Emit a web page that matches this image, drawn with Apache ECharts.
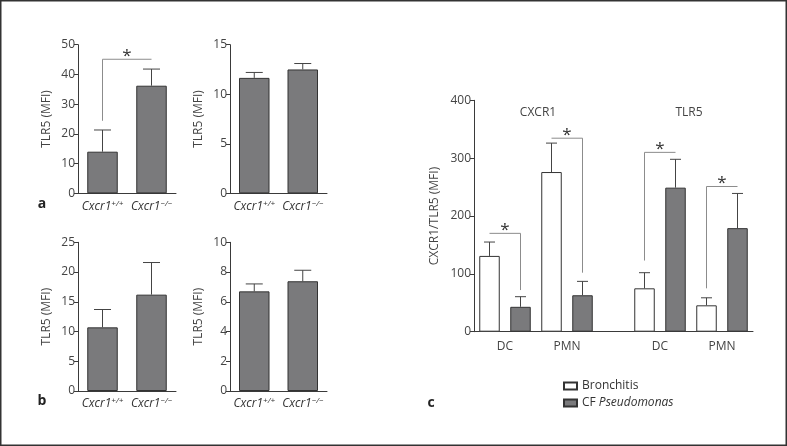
<!DOCTYPE html>
<html><head><meta charset="utf-8">
<script src="https://cdn.jsdelivr.net/npm/echarts@6/dist/echarts.min.js"></script>
<style>html,body{margin:0;padding:0;background:#fff}#c{width:787px;height:446px}</style>
</head><body><div id="c"></div>
<script>
// ---- data ----
const genotypes = ['Cxcr1+/+', 'Cxcr1−/−'];
const aLeftMean = [14.0, 36.2];
const aLeftSem = [7.3, 5.6];
const aRightMean = [11.65, 12.5];
const aRightSem = [0.55, 0.6];
const bLeftMean = [10.7, 16.2];
const bLeftSem = [3.0, 5.4];
const bRightMean = [6.7, 7.38];
const bRightSem = [0.5, 0.74];
const aLeftBracket = [0, 1, 45.1, 24.4, -1]; // from cat, to cat, top, left drop, right drop

const markers = ['CXCR1', 'TLR5'];
const cellTypes = ['DC', 'PMN'];
const bronchitisMean = [131, 276, 75, 45.6];
const bronchitisSem = [24, 50, 27, 13];
const cfMean = [43, 63, 249, 179];
const cfSem = [17.5, 24, 49, 60];
// [marker, cell, top, left drop, right drop]
const cBrackets = [[0, 0, 170, -1, 72], [0, 1, 334.5, -1, 102], [1, 0, 310, 123, -1], [1, 1, 251, 75, -1]];

const yMaxes = [50, 15, 25, 10, 400];
const yIntervals = [10, 5, 5, 2, 100];

// ---- helpers ----
const FONT = '"Open Sans", "Noto Sans", sans-serif';
const GRAY = '#7a7a7c';
const AX = '#3a3a3a';
const TXT = '#444';

function slot(m, c) { return m * 5 + c * 2; }
const nSlots = markers.length * 5 - 1;

function errRender(cap) {
  return function (params, api) {
    const x = api.value(0), m = api.value(1), u = api.value(2);
    const p0 = api.coord([x, m]), p1 = api.coord([x, u]);
    const st = { stroke: '#444', lineWidth: 1 };
    return { type: 'group', children: [
      { type: 'line', shape: { x1: p0[0], y1: p0[1], x2: p1[0], y2: p1[1] }, style: st },
      { type: 'line', shape: { x1: p1[0] - cap, y1: p1[1], x2: p1[0] + cap, y2: p1[1] }, style: st }
    ] };
  };
}
function bracketRender(params, api) {
  const x0 = api.value(0), x1 = api.value(1), top = api.value(2), dl = api.value(3), dr = api.value(4);
  const a = api.coord([x0, top]), b = api.coord([x1, top]);
  const st = { stroke: '#8c8c8c', lineWidth: 1 };
  const ch = [{ type: 'line', shape: { x1: a[0], y1: a[1], x2: b[0], y2: b[1] }, style: st }];
  if (dl >= 0) { const d = api.coord([x0, dl]); ch.push({ type: 'line', shape: { x1: a[0], y1: a[1], x2: d[0], y2: d[1] }, style: st }); }
  if (dr >= 0) { const d = api.coord([x1, dr]); ch.push({ type: 'line', shape: { x1: b[0], y1: b[1], x2: d[0], y2: d[1] }, style: st }); }
  ch.push({ type: 'text', x: (a[0] + b[0]) / 2, y: a[1] - 3, style: { text: '*', fontSize: 17, fontFamily: FONT, fill: '#333', align: 'center', verticalAlign: 'middle' } });
  return { type: 'group', children: ch };
}

const grids = [
  { left: 78, top: 44.7, width: 98, height: 148.6 },
  { left: 230, top: 44.7, width: 97, height: 148.6 },
  { left: 78, top: 242.3, width: 98, height: 148.7 },
  { left: 230, top: 242.3, width: 97, height: 148.7 },
  { left: 474, top: 100.3, width: 279, height: 231.4 }
];

const genoRich = {
  it: { fontStyle: 'italic', fontSize: 12, fontFamily: FONT, color: '#333', lineHeight: 14 },
  sup: { fontStyle: 'italic', fontSize: 8, fontFamily: FONT, color: '#333', lineHeight: 14, verticalAlign: 'top', padding: [0, 0, 6, 0] }
};
function genoLabel(v) {
  const i = v.indexOf('1');
  return '{it|' + v.slice(0, i + 1) + '}{sup|' + v.slice(i + 1) + '}';
}

const xAxes = [], yAxes = [], series = [];
const abMeans = [aLeftMean, aRightMean, bLeftMean, bRightMean];
const abSems = [aLeftSem, aRightSem, bLeftSem, bRightSem];
for (let i = 0; i < 4; i++) {
  xAxes.push({ gridIndex: i, type: 'category', data: genotypes, axisTick: { show: false },
    axisLine: { lineStyle: { color: AX, width: 1 } },
    axisLabel: { formatter: genoLabel, rich: genoRich, margin: 6, interval: 0 } });
  yAxes.push({ gridIndex: i, type: 'value', min: 0, max: yMaxes[i], interval: yIntervals[i],
    name: 'TLR5 (MFI)', nameLocation: 'middle', nameGap: 25,
    nameTextStyle: { fontSize: 12, color: TXT, fontFamily: FONT },
    axisLine: { show: true, lineStyle: { color: AX } },
    axisTick: { show: true, length: 4, lineStyle: { color: AX } },
    splitLine: { show: false },
    axisLabel: { fontSize: 12, color: TXT, fontFamily: FONT, margin: 3 } });
  series.push({ type: 'bar', xAxisIndex: i, yAxisIndex: i, data: abMeans[i], barWidth: 30.5,
    itemStyle: { color: GRAY, borderColor: '#333', borderWidth: 1 }, silent: true });
  series.push({ type: 'custom', xAxisIndex: i, yAxisIndex: i, renderItem: errRender(8.5), z: 5,
    encode: { x: 0, y: [1, 2] },
    data: abMeans[i].map((m, k) => [k, m, m + abSems[i][k]]) });
}
series.push({ type: 'custom', xAxisIndex: 0, yAxisIndex: 0, renderItem: bracketRender, z: 6,
  encode: { x: [0, 1], y: [2, 3, 4] }, data: [aLeftBracket] });

// panel c
const slotCats = Array.from({ length: nSlots }, (_, i) => String(i));
xAxes.push({ gridIndex: 4, type: 'category', data: slotCats, axisTick: { show: false },
  axisLabel: { show: false }, axisLine: { lineStyle: { color: AX } } });
const cellLabelMap = {};
markers.forEach((m, mi) => cellTypes.forEach((c, ci) => { cellLabelMap[slot(mi, ci) + 1] = c; }));
xAxes.push({ gridIndex: 4, type: 'value', min: 0, max: nSlots, interval: 1, position: 'bottom',
  axisLine: { show: false }, axisTick: { show: false }, splitLine: { show: false },
  axisLabel: { fontSize: 12, color: TXT, fontFamily: FONT, margin: 9, showMinLabel: true, showMaxLabel: true,
    formatter: v => cellLabelMap[v] || '' } });
yAxes.push({ gridIndex: 4, type: 'value', min: 0, max: yMaxes[4], interval: yIntervals[4],
  name: 'CXCR1/TLR5 (MFI)', nameLocation: 'middle', nameGap: 33,
  nameTextStyle: { fontSize: 12, color: TXT, fontFamily: FONT },
  axisLine: { show: true, lineStyle: { color: AX } },
  axisTick: { show: true, length: 4, lineStyle: { color: AX } },
  splitLine: { show: false },
  axisLabel: { fontSize: 12, color: TXT, fontFamily: FONT, margin: 3 } });

function slotData(vals, off) {
  const arr = new Array(nSlots).fill('-');
  vals.forEach((v, k) => { arr[slot(Math.floor(k / 2), k % 2) + off] = v; });
  return arr;
}
function slotErr(vals, sems, off) {
  return vals.map((v, k) => [slot(Math.floor(k / 2), k % 2) + off, v, v + sems[k]]);
}
series.push({ name: 'Bronchitis', type: 'bar', xAxisIndex: 4, yAxisIndex: 4, barWidth: 20.5, barGap: '-100%',
  data: slotData(bronchitisMean, 0), itemStyle: { color: '#fff', borderColor: '#333', borderWidth: 1 } });
series.push({ name: 'CF Pseudomonas', type: 'bar', xAxisIndex: 4, yAxisIndex: 4, barWidth: 20.5, barGap: '-100%',
  data: slotData(cfMean, 1), itemStyle: { color: GRAY, borderColor: '#333', borderWidth: 1 } });
series.push({ type: 'custom', xAxisIndex: 4, yAxisIndex: 4, renderItem: errRender(5.5), z: 5,
  encode: { x: 0, y: [1, 2] }, data: slotErr(bronchitisMean, bronchitisSem, 0).concat(slotErr(cfMean, cfSem, 1)) });
series.push({ type: 'custom', xAxisIndex: 4, yAxisIndex: 4, renderItem: bracketRender, z: 6,
  encode: { x: [0, 1], y: [2, 3, 4] },
  data: cBrackets.map(b => [slot(b[0], b[1]), slot(b[0], b[1]) + 1, b[2], b[3], b[4]]) });

const chart = echarts.init(document.getElementById('c'), null, { renderer: 'canvas' });
chart.setOption({
  animation: false,
  backgroundColor: '#fff',
  textStyle: { fontFamily: FONT },
  grid: grids,
  xAxis: xAxes,
  yAxis: yAxes,
  series: series,
  legend: {
    left: 558, top: 375, orient: 'vertical', itemWidth: 13, itemHeight: 7, itemGap: 5,
    icon: 'rect', data: ['Bronchitis', 'CF Pseudomonas'],
    formatter: n => n === 'CF Pseudomonas' ? 'CF {i|Pseudomonas}' : n,
    textStyle: { fontSize: 12, color: '#333', fontFamily: FONT,
      rich: { i: { fontStyle: 'italic', fontSize: 12, color: '#333', fontFamily: FONT } } }
  },
  graphic: [
    { type: 'rect', shape: { x: 0.75, y: 0.75, width: 785.5, height: 444.5 }, style: { fill: 'none', stroke: '#333', lineWidth: 1.5 }, silent: true },
    { type: 'text', x: 42, y: 204, style: { text: 'a', fontSize: 14, fontWeight: 'bold', fontFamily: FONT, fill: '#222', align: 'center', verticalAlign: 'middle' } },
    { type: 'text', x: 42, y: 401, style: { text: 'b', fontSize: 14, fontWeight: 'bold', fontFamily: FONT, fill: '#222', align: 'center', verticalAlign: 'middle' } },
    { type: 'text', x: 431, y: 403, style: { text: 'c', fontSize: 14, fontWeight: 'bold', fontFamily: FONT, fill: '#222', align: 'center', verticalAlign: 'middle' } },
    { type: 'text', x: 538, y: 113, style: { text: markers[0], fontSize: 12, fontFamily: FONT, fill: TXT, align: 'center', verticalAlign: 'middle' } },
    { type: 'text', x: 689, y: 113, style: { text: markers[1], fontSize: 12, fontFamily: FONT, fill: TXT, align: 'center', verticalAlign: 'middle' } }
  ]
});
</script></body></html>
